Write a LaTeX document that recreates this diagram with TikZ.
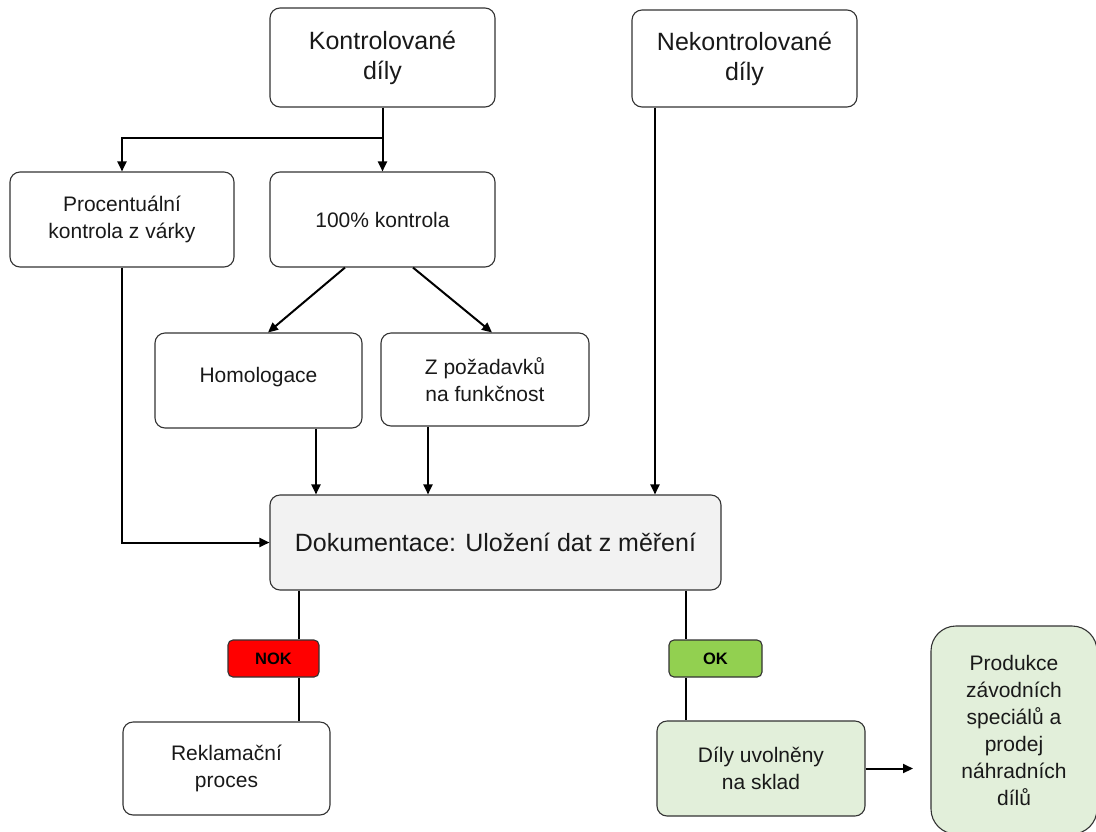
\documentclass[tikz,border=0pt]{standalone}
\usepackage{fontspec}
\setmainfont{Liberation Sans}
\usepackage{xcolor}
\usepackage{tikz}
\usetikzlibrary{arrows.meta}

\definecolor{dokgray}{HTML}{F2F2F2}
\definecolor{okgreen}{HTML}{92D050}
\definecolor{palegreen}{HTML}{E2EFDA}
\definecolor{edge}{HTML}{333333}

\tikzset{
    box/.style={draw=edge, rectangle, rounded corners=10pt, line width=1.1pt, align=center, inner sep=0pt, text=black!90},
    big/.style={font=\fontsize{25}{30}\selectfont},
    small/.style={font=\fontsize{21}{27}\selectfont},
    tag/.style={draw=edge, rectangle, rounded corners=5pt, line width=1.1pt, inner sep=0pt,
        minimum height=37pt, font=\fontsize{16.5}{20}\selectfont\bfseries},
    link/.style={line width=2pt}
}

\begin{document}
\begin{tikzpicture}[x=1pt, y=-1pt, >={Triangle[length=10pt,width=9pt]}]
    \useasboundingbox (0,0) rectangle (1096,831);

    \node[box, big, minimum width=225pt, minimum height=99pt] (kont) at (382.5,57.5) {Kontrolované\\díly};
    \node[box, big, minimum width=225pt, minimum height=97pt] (nekont) at (744.5,58.5) {Nekontrolované\\díly};
    \node[box, small, minimum width=224pt, minimum height=95pt] (proc) at (122,219.5) {Procentuální\\kontrola z várky};
    \node[box, small, minimum width=225pt, minimum height=95pt] (full) at (382.5,219.5) {100\% kontrola};
    \node[box, small, minimum width=207pt, minimum height=95pt] (homol) at (258.5,380.5) {\raisebox{12pt}{Homologace}};
    \node[box, small, minimum width=208pt, minimum height=93pt] (funk) at (485,379.5) {Z požadavků\\na funkčnost};
    \node[box, big, fill=dokgray, minimum width=451pt, minimum height=95pt] (dok) at (495.5,542.5) {\raisebox{-10pt}{Dokumentace: Uložení dat z měření}};
    \node[tag, fill=red, minimum width=91pt] (nok) at (273.5,658.5) {NOK};
    \node[tag, fill=okgreen, minimum width=93pt] (ok) at (715.5,658.5) {OK};
    \node[box, small, minimum width=207pt, minimum height=93pt] (recl) at (226.5,768.5) {Reklamační\\proces};
    \node[box, small, fill=palegreen, minimum width=208pt, minimum height=95pt] (dily) at (761,768.5) {Díly uvolněny\\na sklad};
    \node[box, small, fill=palegreen, rounded corners=25pt, minimum width=166pt, minimum height=208pt] (prod) at (1014,730) {Produkce\\závodních\\speciálů a\\prodej\\náhradních\\dílů};

    % helper points
    \coordinate (homx) at (316,0);
    \coordinate (funx) at (428,0);
    \coordinate (nekx) at (655,0);
    \coordinate (nokx) at (299,0);
    \coordinate (okx) at (686,0);
    \coordinate (prodin) at (913,768.5);

    \draw[link, ->] (kont.south) -- ++(0,30) -| (proc.north);
    \draw[link, ->] (kont.south) -- (full.north);
    \draw[link, ->] ([xshift=-37.5pt]full.south) -- ([xshift=9.5pt]homol.north);
    \draw[link, ->] ([xshift=30.5pt]full.south) -- ([xshift=7pt]funk.north);
    \draw[link, ->] (homol.south -| homx) -- (dok.north -| homx);
    \draw[link, ->] (funk.south -| funx) -- (dok.north -| funx);
    \draw[link, ->] (nekont.south -| nekx) -- (dok.north -| nekx);
    \draw[link, ->] (proc.south) |- (dok.west);
    \draw[link] (dok.south -| nokx) -- (nok.north -| nokx);
    \draw[link] (nok.south -| nokx) -- (recl.north -| nokx);
    \draw[link] (dok.south -| okx) -- (ok.north -| okx);
    \draw[link] (ok.south -| okx) -- (dily.north -| okx);
    \draw[link, ->] (dily.east) -- (prodin);
\end{tikzpicture}
\end{document}
